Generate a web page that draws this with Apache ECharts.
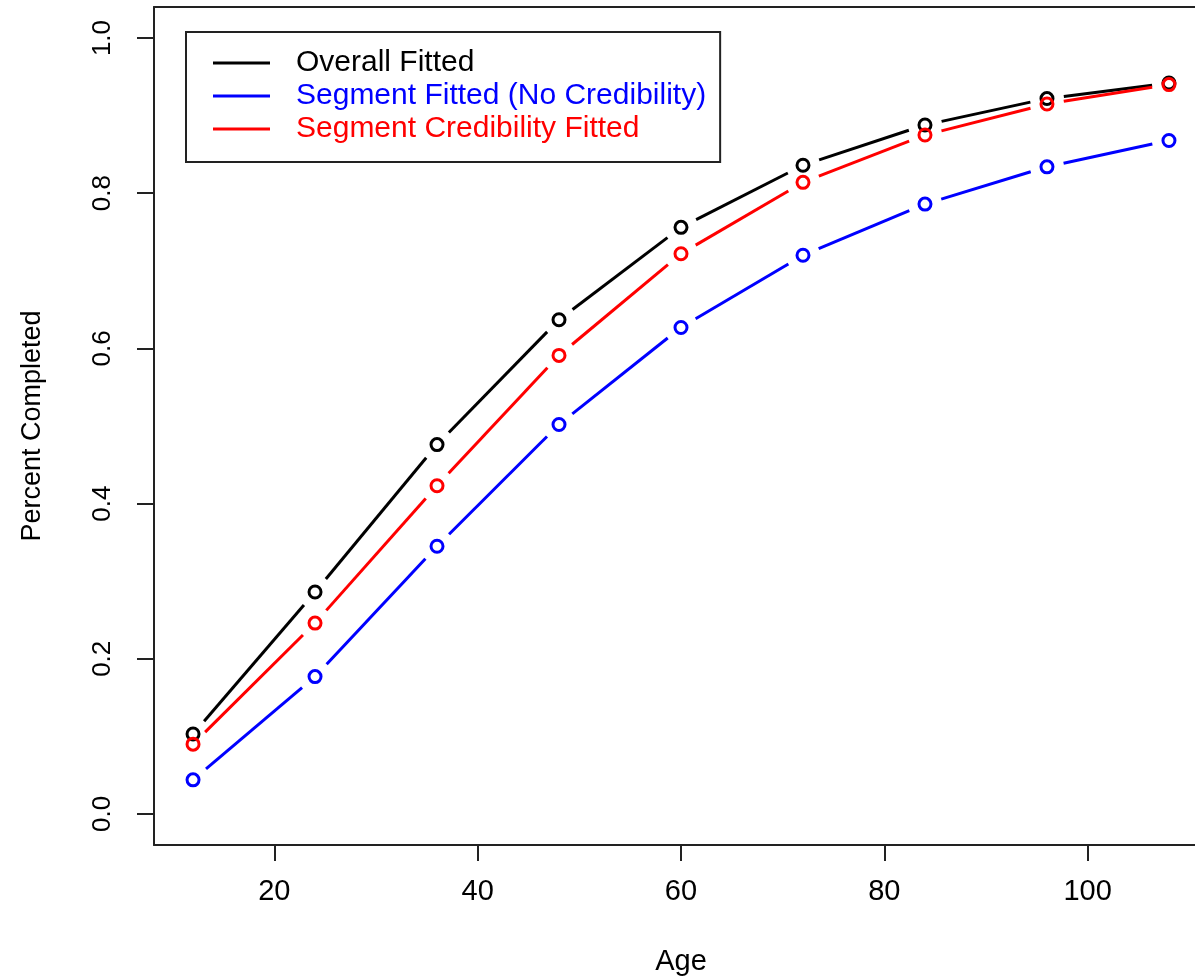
<!DOCTYPE html>
<html>
<head>
<meta charset="utf-8">
<script src="https://cdn.jsdelivr.net/npm/echarts@6/dist/echarts.min.js"></script>
<style>
html,body{margin:0;padding:0;background:#fff;}
#chart{width:1195px;height:976px;}
</style>
</head>
<body>
<div id="chart"></div>
<script>
const ages = [12, 24, 36, 48, 60, 72, 84, 96, 108];
const overallFitted = [0.103, 0.286, 0.476, 0.637, 0.756, 0.836, 0.888, 0.922, 0.942];
const segmentFitted = [0.044, 0.177, 0.345, 0.502, 0.627, 0.720, 0.786, 0.834, 0.868];
const credibilityFitted = [0.090, 0.246, 0.423, 0.591, 0.722, 0.814, 0.875, 0.915, 0.940];
const xTicks = [20, 40, 60, 80, 100];
const yTicks = [0, 0.2, 0.4, 0.6, 0.8, 1.0];
const seriesNames = ['Overall Fitted', 'Segment Fitted (No Credibility)', 'Segment Credibility Fitted'];
const seriesColors = ['#000000', '#0000ff', '#ff0000'];
const seriesValues = [overallFitted, segmentFitted, credibilityFitted];

const FONT = '"Liberation Sans", Arial, sans-serif';
const GAP = 17;

function segPairs(vals) {
  const out = [];
  for (let i = 0; i < ages.length - 1; i++) {
    out.push([ages[i], vals[i], ages[i + 1], vals[i + 1]]);
  }
  return out;
}

function makeRender(color) {
  return function (params, api) {
    const p1 = api.coord([api.value(0), api.value(1)]);
    const p2 = api.coord([api.value(2), api.value(3)]);
    const dx = p2[0] - p1[0], dy = p2[1] - p1[1];
    const len = Math.sqrt(dx * dx + dy * dy);
    if (len <= 2 * GAP) return null;
    const ux = dx / len, uy = dy / len;
    return {
      type: 'line',
      shape: {
        x1: p1[0] + ux * GAP, y1: p1[1] + uy * GAP,
        x2: p2[0] - ux * GAP, y2: p2[1] - uy * GAP
      },
      style: { stroke: color, lineWidth: 3 }
    };
  };
}

const series = [];
seriesNames.forEach((name, k) => {
  series.push({
    name: name,
    type: 'custom',
    renderItem: makeRender(seriesColors[k]),
    encode: { x: [0, 2], y: [1, 3] },
    itemStyle: { color: seriesColors[k] },
    data: segPairs(seriesValues[k]),
    silent: true,
    z: 2
  });
});
seriesNames.forEach((name, k) => {
  series.push({
    name: name,
    type: 'scatter',
    symbol: 'circle',
    symbolSize: 12,
    itemStyle: { color: 'rgba(0,0,0,0)', borderColor: seriesColors[k], borderWidth: 3, opacity: 1 },
    data: ages.map((a, i) => [a, seriesValues[k][i]]),
    silent: true,
    z: 3
  });
});

const X_MIN = 8.16, X_MAX = 111.84;
const chart = echarts.init(document.getElementById('chart'), null, { renderer: 'canvas' });
chart.setOption({
  animation: false,
  backgroundColor: '#ffffff',
  textStyle: { fontFamily: FONT },
  grid: {
    left: 154, top: 7, width: 1054, height: 838,
    show: false,
    containLabel: false,
    outerBoundsMode: 'none'
  },
  legend: {
    orient: 'vertical',
    left: 186, top: 32,
    padding: [13, 14, 15, 27],
    itemWidth: 57, itemHeight: 3,
    itemGap: -3,
    borderColor: '#222', borderWidth: 2,
    backgroundColor: '#fff',
    selectedMode: false,
    textStyle: { fontSize: 30, fontFamily: FONT, lineHeight: 28, padding: [8, 0, 0, 21] },
    data: seriesNames.map((n, k) => ({
      name: n, icon: 'rect',
      itemStyle: { color: seriesColors[k], borderWidth: 0 },
      textStyle: { color: seriesColors[k] }
    }))
  },
  xAxis: [{
    type: 'value',
    min: X_MIN, max: X_MAX,
    position: 'bottom',
    name: 'Age',
    nameLocation: 'middle',
    nameGap: 102,
    nameTextStyle: { fontSize: 29, color: '#000', fontFamily: FONT },
    axisLine: { show: true, onZero: false, lineStyle: { color: '#222', width: 2 } },
    splitLine: { show: false },
    axisTick: { show: true, inside: false, length: 16, customValues: xTicks, lineStyle: { color: '#222', width: 2 } },
    axisLabel: { customValues: xTicks, fontSize: 29, color: '#000', margin: 32, fontFamily: FONT }
  }, {
    type: 'value',
    min: X_MIN, max: X_MAX,
    position: 'top',
    axisLine: { show: true, onZero: false, lineStyle: { color: '#222', width: 2 } },
    axisTick: { show: false },
    axisLabel: { show: false },
    splitLine: { show: false }
  }],
  yAxis: {
    type: 'value',
    min: -0.04, max: 1.04,
    name: 'Percent Completed',
    nameLocation: 'middle',
    nameRotate: 90,
    nameGap: 108,
    nameTextStyle: { fontSize: 27, color: '#000', fontFamily: FONT },
    axisLine: { show: true, onZero: false, lineStyle: { color: '#222', width: 2 } },
    splitLine: { show: false },
    axisTick: { show: true, inside: false, length: 17, customValues: yTicks, lineStyle: { color: '#222', width: 2 } },
    axisLabel: {
      customValues: yTicks, fontSize: 26, color: '#000', margin: 38, rotate: 90,
      fontFamily: FONT,
      formatter: v => v.toFixed(1)
    }
  },
  series: series
});
</script>
</body>
</html>
